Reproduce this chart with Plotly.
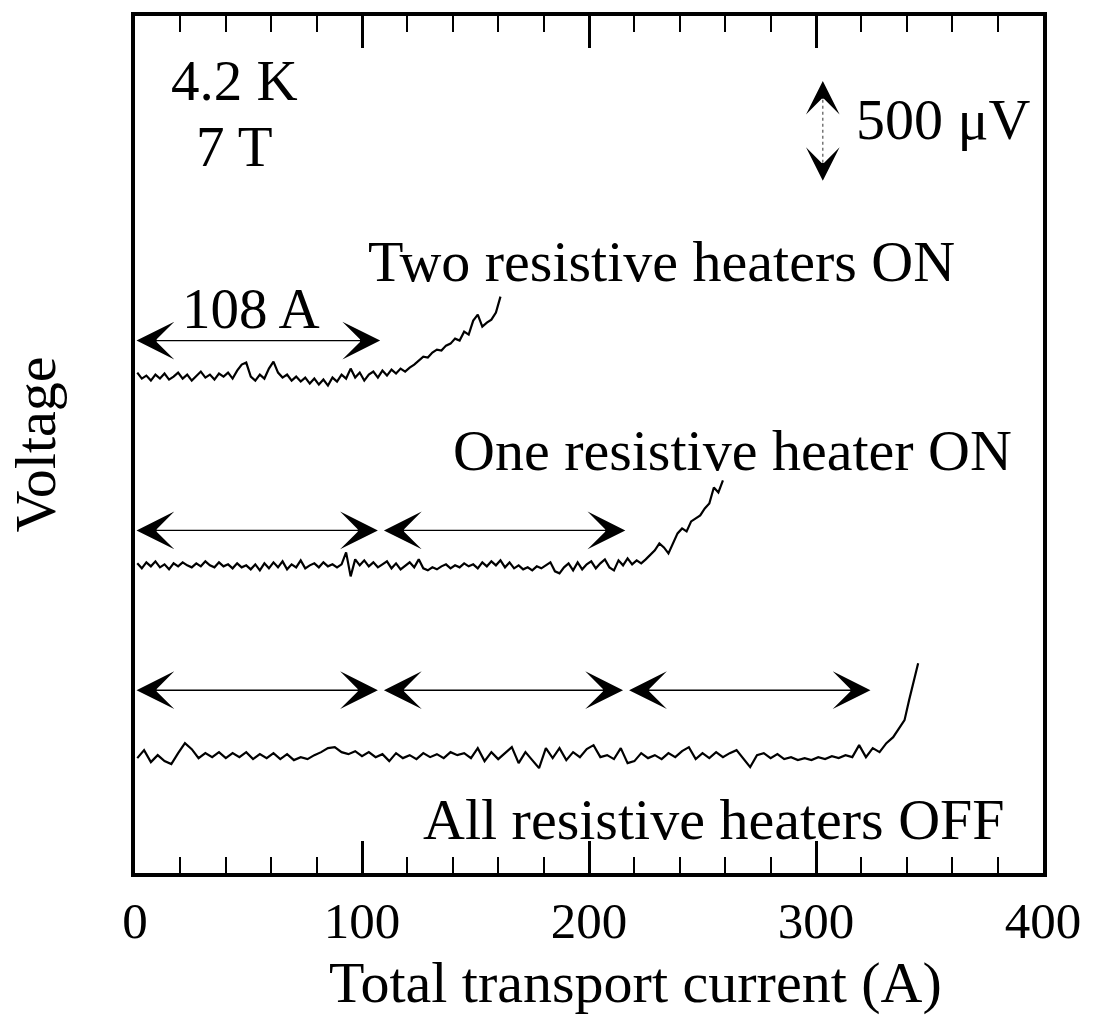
import plotly.graph_objects as go

# ---------------- data ----------------
# Total transport current (A) sample points and measured voltages (µV, with offsets for stacking)
two_heaters_current = list(range(1, 162, 2))
two_heaters_voltage = [
    2505, 2475, 2490, 2465, 2495, 2475, 2500, 2470, 2485, 2505,
    2475, 2495, 2465, 2490, 2510, 2480, 2495, 2470, 2500, 2485,
    2505, 2475, 2515, 2545, 2555, 2485, 2465, 2495, 2475, 2525,
    2560, 2505, 2480, 2495, 2465, 2485, 2460, 2480, 2450, 2475,
    2445, 2470, 2440, 2480, 2460, 2495, 2475, 2525, 2480, 2505,
    2465, 2495, 2510, 2480, 2515, 2490, 2520, 2500, 2525, 2510,
    2530, 2545, 2565, 2585, 2580, 2605, 2620, 2615, 2640, 2650,
    2675, 2665, 2710, 2695, 2765, 2795, 2735, 2755, 2770, 2805,
    2885,
]

one_heater_current = list(range(1, 260, 2))
one_heater_voltage = [
    1550, 1525, 1555, 1535, 1560, 1530, 1545, 1520, 1550, 1535,
    1555, 1540, 1530, 1550, 1535, 1560, 1540, 1530, 1555, 1535,
    1545, 1525, 1550, 1530, 1540, 1520, 1545, 1515, 1550, 1525,
    1555, 1530, 1560, 1520, 1545, 1530, 1565, 1525, 1540, 1550,
    1530, 1555, 1535, 1545, 1530, 1545, 1605, 1485, 1570, 1540,
    1565, 1535, 1555, 1530, 1545, 1560, 1525, 1550, 1520, 1540,
    1555, 1530, 1570, 1525, 1515, 1530, 1520, 1535, 1545, 1525,
    1540, 1530, 1550, 1535, 1545, 1525, 1555, 1535, 1560, 1540,
    1565, 1530, 1555, 1525, 1540, 1520, 1530, 1515, 1535, 1525,
    1540, 1555, 1510, 1500, 1530, 1550, 1515, 1555, 1520, 1545,
    1560, 1525, 1550, 1570, 1530, 1515, 1565, 1540, 1575, 1545,
    1565, 1550, 1570, 1590, 1615, 1650, 1630, 1600, 1650, 1700,
    1725, 1710, 1760, 1775, 1790, 1825, 1850, 1930, 1905, 1965,
]

all_off_current = list(range(1, 335, 3)) + [337, 339, 341, 343, 345]
all_off_voltage = [
    575, 615, 555, 590, 560, 545, 600, 650, 620, 575,
    600, 580, 605, 575, 600, 580, 605, 570, 595, 575,
    600, 570, 595, 565, 580, 570, 590, 605, 625, 630,
    605, 595, 610, 585, 605, 580, 595, 560, 600, 575,
    590, 570, 600, 580, 595, 575, 605, 590, 600, 575,
    625, 560, 605, 570, 600, 630, 550, 605, 565, 525,
    625, 575, 625, 565, 605, 580, 620, 640, 580, 590,
    570, 625, 550, 560, 600, 575, 590, 570, 600, 580,
    610, 630, 570, 600, 575, 605, 580, 600, 615, 570,
    530, 590, 600, 575, 595, 570, 580, 565, 575, 565,
    580, 570, 585, 575, 590, 580, 640, 580, 625, 605,
    650, 680,
    730, 765, 865, 965, 1050,
]

# current intervals (A) marked by double arrows (108 A steps) and their voltage level
two_heaters_spans = [(0, 108)]
one_heater_spans = [(0, 107), (109, 216)]
all_off_spans = [(0, 107), (109, 215), (217, 324)]
two_heaters_arrow_v = 2665
one_heater_arrow_v = 1715
all_off_arrow_v = 915

# 500 µV scale bar
scale_bar_current = 303
scale_bar_v = (3465, 3965)

x_tick_vals = [0, 100, 200, 300, 400]
x_tick_text = ["0", "100", "200", "300", "400"]

# ---------------- figure ----------------
FONT = "Liberation Serif"
fig = go.Figure()

for xs, ys in [(two_heaters_current, two_heaters_voltage),
               (one_heater_current, one_heater_voltage),
               (all_off_current, all_off_voltage)]:
    fig.add_trace(go.Scatter(x=xs, y=ys, mode="lines",
                             line=dict(color="black", width=2.2),
                             hoverinfo="skip", showlegend=False))

annotations = []

def double_arrow(x0, x1, y):
    return dict(x=x1, y=y, ax=x0, ay=y, xref="x", yref="y", axref="x", ayref="y",
                text="", showarrow=True, arrowside="end+start",
                arrowhead=3, startarrowhead=3, arrowsize=4.5, startarrowsize=4.5,
                arrowwidth=1.4, arrowcolor="black", standoff=0, startstandoff=0)

for spans, yv in [(two_heaters_spans, two_heaters_arrow_v),
                  (one_heater_spans, one_heater_arrow_v),
                  (all_off_spans, all_off_arrow_v)]:
    for a, b in spans:
        annotations.append(double_arrow(a, b, yv))

# scale bar: dotted shaft + two heads
fig.add_shape(type="line", xref="x", yref="y",
              x0=scale_bar_current, x1=scale_bar_current,
              y0=scale_bar_v[0] + 60, y1=scale_bar_v[1] - 60,
              line=dict(color="#555", width=1.2, dash="dot"))
for tip, tail in [(scale_bar_v[1], scale_bar_v[1] - 90), (scale_bar_v[0], scale_bar_v[0] + 90)]:
    annotations.append(dict(x=scale_bar_current, y=tip, ax=scale_bar_current, ay=tail,
                            xref="x", yref="y", axref="x", ayref="y", text="",
                            showarrow=True, arrowhead=3, arrowsize=4, arrowwidth=1.4,
                            arrowcolor="black", standoff=0))

def label(text, x, y, size=58, xref="x", yref="y"):
    return dict(x=x, y=y, xref=xref, yref=yref, text=text, showarrow=False,
                xanchor="center", yanchor="middle",
                font=dict(family=FONT, size=size, color="black"))

annotations += [
    label("4.2 K", 44, 3965, size=57),
    label("7 T", 43.7, 3635, size=57),
    label("500 μV", 356, 3770),
    label("Two resistive heaters ON", 232, 3060),
    label("108 A", 51, 2825, size=57),
    label("One resistive heater ON", 263, 2115),
    label("All resistive heaters OFF", 255, 270),
    # x-axis title (placed as in the original, slightly right of centre)
    label("Total transport current (A)", 0.551, -0.128, size=58, xref="paper", yref="paper"),
]

fig.update_layout(
    width=1093, height=1021,
    margin=dict(l=135, r=43, t=15, b=148),
    paper_bgcolor="white", plot_bgcolor="white",
    font=dict(family=FONT, color="black"),
    annotations=annotations,
    showlegend=False,
)

fig.update_xaxes(
    range=[0, 400], tickvals=x_tick_vals, ticktext=x_tick_text,
    ticks="inside", ticklen=32, tickwidth=2.5, tickcolor="black",
    minor=dict(dtick=20, tick0=0, ticks="inside", ticklen=16, tickwidth=2, tickcolor="black"),
    showline=True, linewidth=4, linecolor="black", mirror="ticks",
    showgrid=False, zeroline=False,
    tickfont=dict(family=FONT, size=51, color="black"),
)
fig.update_yaxes(
    range=[0, 4290], showticklabels=False, ticks="",
    showline=True, linewidth=4, linecolor="black", mirror=True,
    showgrid=False, zeroline=False,
    title=dict(text="Voltage", standoff=58,
               font=dict(family=FONT, size=58, color="black")),
)

fig.write_html("out.html", config={"displayModeBar": False})
